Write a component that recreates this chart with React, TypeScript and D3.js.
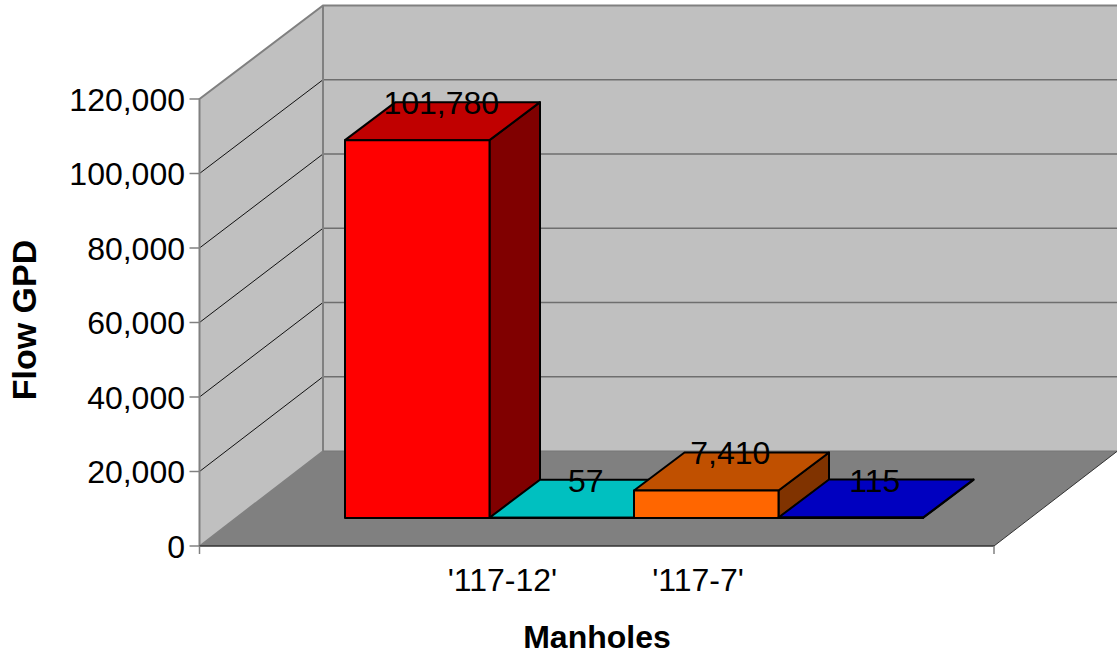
import React from "react";
import * as d3 from "d3";

const W = 1117, H = 656;
const barNames = ["'117-12'", "b", "'117-7'", "d"];
const barValues = [101780, 57, 7410, 115];
const barLabels = ["101,780", "57", "7,410", "115"];
const frontColors = ["#ff0000", "#00ffff", "#ff6600", "#0000ff"];
const topColors = ["#c00000", "#00c0c0", "#c05000", "#0000c0"];
const sideColors = ["#800000", "#008080", "#803300", "#000080"];
const yTicks = [0, 20000, 40000, 60000, 80000, 100000, 120000];
const xLabels = [{ text: "'117-12'", at: 1.525 }, { text: "'117-7'", at: 2.51 }];

const y = d3.scaleLinear().domain([0, 120000]).range([546, 99]);
const backY = d3.scaleLinear().domain([0, 120000]).range([451, 5.5]);
const floorX = d3.scaleLinear().domain([0, 4]).range([199.5, 994]);
const depthX = 123.5;
const barX = d3.scaleBand().domain(barNames).range([345, 923]).padding(0);
const barBase = 518, barDX = 50.5, barDY = -38;
const barH = (v: number) => backY(0) - backY(v);
const fmt = d3.format(",");
const font = "'Liberation Sans', Arial, sans-serif";
const poly = (pts: number[][]) => pts.map(p => p.join(",")).join(" ");

export default function App() {
  const x0 = floorX(0), x1 = floorX(4), yb = y(0), yt = y(120000);
  const bx0 = x0 + depthX, bx1 = x1 + depthX, byb = backY(0), byt = backY(120000);
  return (
    <svg width={W} height={H} style={{ position: "absolute", left: 0, top: 0 }} fontFamily={font}>
      <rect width={W} height={H} fill="#fff" />
      {/* back wall */}
      <polygon points={poly([[bx0, byt], [bx1, byt], [bx1, byb], [bx0, byb]])} fill="#c0c0c0" />
      {/* side wall */}
      <polygon points={poly([[x0, yt], [bx0, byt], [bx0, byb], [x0, yb]])} fill="#c0c0c0" />
      {/* floor */}
      <polygon points={poly([[x0, yb], [x1, yb], [bx1, byb], [bx0, byb]])} fill="#808080" />
      {/* gridlines */}
      {yTicks.map(t => (
        <g key={t}>
          {t > 0 && t < 120000 && <line x1={bx0} x2={W} y1={backY(t)} y2={backY(t)} stroke="#6e6e6e" strokeWidth={1.3} />}
          {t > 0 && t < 120000 && <line x1={x0} x2={bx0} y1={y(t)} y2={backY(t)} stroke="#111" strokeWidth={1} />}
          <line x1={x0 - 10} x2={x0} y1={y(t)} y2={y(t)} stroke="#808080" strokeWidth={1.5} />
          <text x={185} y={y(t) + 11.5} fontSize={32} textAnchor="end" fill="#000">{fmt(t)}</text>
        </g>
      ))}
      {/* frame */}
      <polyline points={poly([[x0, yb], [x0, yt], [bx0, byt], [W, byt]])} fill="none" stroke="#808080" strokeWidth={2} />
      <line x1={bx0} x2={bx0} y1={byt} y2={byb} stroke="#808080" strokeWidth={2} />
      <line x1={x0} x2={bx0} y1={yb} y2={byb} stroke="#808080" strokeWidth={1.5} />
      <line x1={bx0} x2={W} y1={byb} y2={byb} stroke="#777" strokeWidth={1} />
      <line x1={x0} x2={x1} y1={yb} y2={yb} stroke="#333" strokeWidth={1.5} />
      <line x1={x1} x2={bx1} y1={yb} y2={byb} stroke="#333" strokeWidth={1} />
      <line x1={x0} x2={x0} y1={yb} y2={yb + 8} stroke="#808080" strokeWidth={1.5} />
      <line x1={x1} x2={x1} y1={yb} y2={yb + 8} stroke="#808080" strokeWidth={1.5} />
      {/* bars */}
      {barNames.map((n, i) => {
        const l = barX(n)!, r = l + barX.bandwidth(), top = barBase - barH(barValues[i]);
        return (
          <g key={n} stroke="#000" strokeWidth={2} strokeLinejoin="round">
            <polygon points={poly([[r, barBase], [r + barDX, barBase + barDY], [r + barDX, top + barDY], [r, top]])} fill={sideColors[i]} />
            <polygon points={poly([[l, top], [l + barDX, top + barDY], [r + barDX, top + barDY], [r, top]])} fill={topColors[i]} />
            <rect x={l} y={top} width={r - l} height={barBase - top} fill={frontColors[i]} />
          </g>
        );
      })}
      {/* data labels */}
      {barNames.map((n, i) => (
        <text key={n} x={barX(n)! + barX.bandwidth() / 2 + 24} y={barBase - barH(barValues[i]) + barDY + 12} fontSize={32} textAnchor="middle" fill="#000">{barLabels[i]}</text>
      ))}
      {/* axis labels */}
      {xLabels.map(d => (
        <text key={d.text} x={floorX(d.at)} y={591} fontSize={32} textAnchor="middle" fill="#000">{d.text}</text>
      ))}
      <text x={597} y={648} fontSize={32} fontWeight="bold" textAnchor="middle" fill="#000">Manholes</text>
      <text transform="translate(36,320) rotate(-90)" fontSize={34} fontWeight="bold" textAnchor="middle" fill="#000">Flow GPD</text>
    </svg>
  );
}
